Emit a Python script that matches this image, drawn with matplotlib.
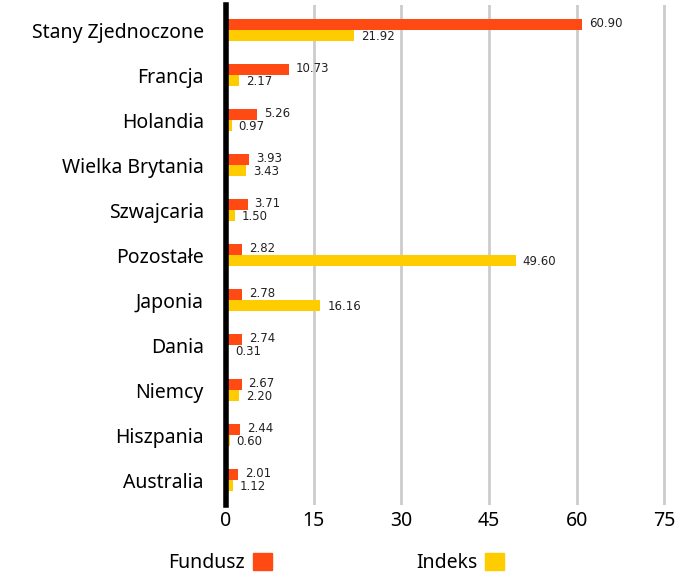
import numpy as np
import matplotlib.pyplot as plt
from matplotlib.patches import Patch

countries = ["Stany Zjednoczone", "Francja", "Holandia", "Wielka Brytania", "Szwajcaria",
             "Pozostałe", "Japonia", "Dania", "Niemcy", "Hiszpania", "Australia"]
fundusz = [60.90, 10.73, 5.26, 3.93, 3.71, 2.82, 2.78, 2.74, 2.67, 2.44, 2.01]
indeks = [21.92, 2.17, 0.97, 3.43, 1.50, 49.60, 16.16, 0.31, 2.20, 0.60, 1.12]
xticks = [0, 15, 30, 45, 60, 75]

orange = "#ff4a14"
yellow = "#ffcc00"
font = "Noto Sans"

fig = plt.figure(figsize=(6.92, 5.8), dpi=100)
ax = fig.add_axes([0.3266, 0.129, 0.636, 0.862])

y = np.arange(len(countries))
h = 0.25
ax.barh(y - h / 2, fundusz, height=h, color=orange, zorder=3)
ax.barh(y + h / 2, indeks, height=h, color=yellow, zorder=3)

# value labels, nudged apart slightly so the close pairs don't collide
for yi, v in zip(y - h / 2, fundusz):
    ax.annotate(f"{v:.2f}", (v, yi), xytext=(5, 0.5), textcoords="offset points",
                va="center", ha="left", fontsize=8.5, color="#222222")
for yi, v in zip(y + h / 2, indeks):
    ax.annotate(f"{v:.2f}", (v, yi), xytext=(5, -0.5), textcoords="offset points",
                va="center", ha="left", fontsize=8.5, color="#222222")

ax.set_ylim(len(countries) - 0.444, -0.556)
ax.set_xlim(0, 75.3)
ax.set_yticks(y)
ax.set_yticklabels(countries, fontsize=14, family=font)
ax.set_xticks(xticks)
ax.set_xticklabels([str(t) for t in xticks], fontsize=14, family=font)
ax.tick_params(length=0, pad=4)
ax.tick_params(axis="y", pad=16)

ax.grid(axis="x", color="#cccccc", linewidth=2, zorder=0)
ax.set_axisbelow(True)
for s in ["top", "right", "bottom"]:
    ax.spines[s].set_visible(False)
ax.spines["left"].set_linewidth(4)
ax.spines["left"].set_color("black")
ax.spines["left"].set_zorder(5)

handles = [Patch(color=orange, label="Fundusz"), Patch(color=yellow, label="Indeks")]
fig.legend(handles=handles, loc="center", bbox_to_anchor=(0.486, 0.029), ncol=2,
           frameon=False, markerfirst=False, handlelength=1.0, handleheight=1.0,
           handletextpad=0.4, columnspacing=7.4, prop={"family": font, "size": 14})

fig.savefig("out.png", dpi=100)
